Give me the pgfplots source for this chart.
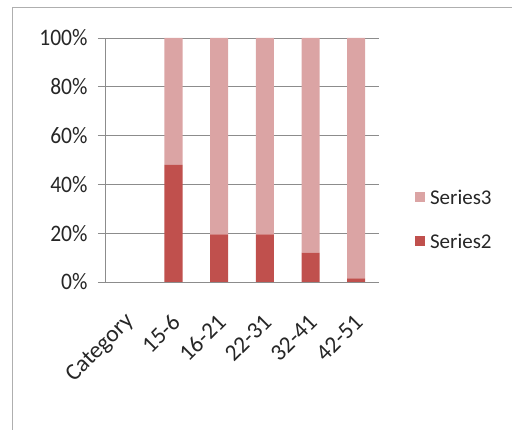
\documentclass[border=0pt]{standalone}
\usepackage{fontspec}
\setmainfont{Carlito}
\usepackage{pgfplots}
\pgfplotsset{compat=1.18}
\definecolor{darkred}{HTML}{C0504D}
\definecolor{lightred}{HTML}{DBA4A4}
\definecolor{axgray}{HTML}{8C8C8C}
\definecolor{txt}{HTML}{262626}
\begin{document}
\begin{tikzpicture}[x=1pt,y=1pt]
\path[use as bounding box] (0,0) rectangle (512,430);
\draw[color=axgray!70, line width=0.8pt] (12,0) -- (12,423) -- (512,423);
\begin{axis}[
  at={(105pt,148pt)}, anchor=south west,
  scale only axis, width=274pt, height=244pt,
  ybar stacked, bar width=18pt,
  xmin=-0.5, xmax=5.5, ymin=0, ymax=100,
  axis x line*=bottom, axis y line*=left,
  axis line style={color=axgray, line width=0.8pt},
  separate axis lines,
  x axis line style={-}, y axis line style={-},
  xtick={0,...,5},
  xticklabels={Category,15-6,16-21,22-31,32-41,42-51},
  x tick style={draw=none},
  extra x ticks={-0.5,0.5,1.5,2.5,3.5,4.5,5.5},
  extra x tick labels={},
  extra x tick style={tick style={draw=axgray, line width=0.8pt}, major tick length=8pt, tick align=outside},
  ytick={0,20,...,100},
  yticklabels={0\%,20\%,40\%,60\%,80\%,100\%},
  y tick style={draw=axgray, line width=0.8pt},
  tick align=outside, major tick length=7pt,
  ymajorgrids, grid style={color=axgray, line width=0.8pt},
  tick label style={color=txt},
  yticklabel style={font=\fontsize{21.5}{26}\selectfont, yscale=1.1, xshift=-7pt},
  xticklabel style={font=\fontsize{23.5}{28}\selectfont, xshift=5pt, yshift=-27pt, rotate=45, anchor=east},
  /pgf/number format/assume math mode=true,
  legend style={at={(1.12,0.395)}, anchor=north west, draw=none, fill=none,
    font=\fontsize{21}{25}\selectfont, text=txt, row sep=24pt},
  legend cell align=left,
  reverse legend,
  legend image code/.code={\fill[#1] (0pt,-4.5pt) rectangle (10pt,5.5pt); \path (13pt,0pt);},
]
\addplot+[fill=darkred, draw=none] coordinates {(1,48) (2,19.5) (3,19.5) (4,12) (5,1.5)};
\addplot+[fill=lightred, draw=none] coordinates {(1,52) (2,80.5) (3,80.5) (4,88) (5,98.5)};
\legend{Series2,Series3}
\end{axis}
\end{tikzpicture}
\end{document}
